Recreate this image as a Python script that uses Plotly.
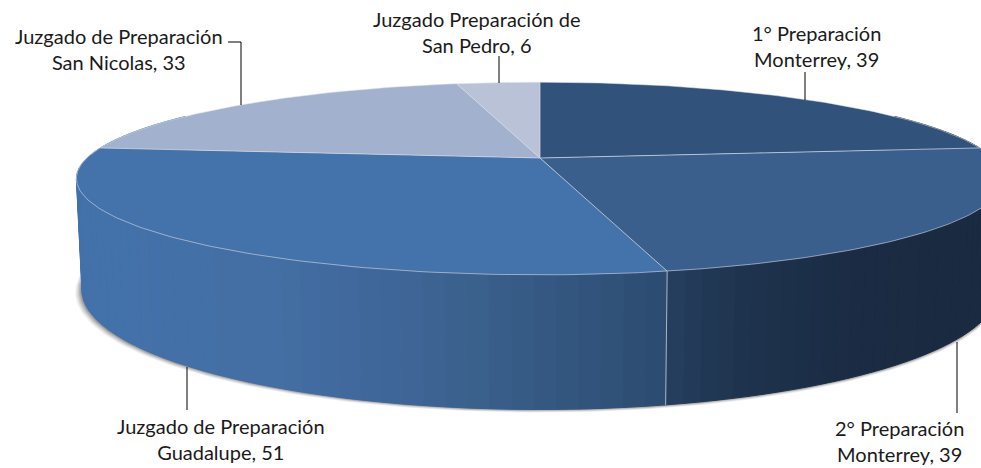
import math
import numpy as np
import plotly.graph_objects as go

labels = ["1° Preparación<br>Monterrey", "2° Preparación<br>Monterrey",
          "Juzgado de Preparación<br>Guadalupe", "Juzgado de Preparación<br>San Nicolas",
          "Juzgado Preparación de<br>San Pedro"]
values = [39, 39, 51, 33, 6]
top_colors = ["#31527B", "#3B5F8C", "#4472AA", "#A2B1CD", "#B9C2D6"]
label_pos = [(816, 46), (899, 441), (221, 439), (119, 49), (477, 32)]
leaders = [([805, 805], [72, 100]), ([957, 957], [342, 413]), ([187, 187], [367, 410]),
           ([228, 241, 241], [42, 42, 105]), ([499, 499], [56, 83])]
wall_stops_x = [75, 280, 360, 450, 560, 667]
wall_stops_c = ["#4472AB", "#436FA4", "#41689C", "#3C6390", "#345780", "#2D4B70"]
wall_stops_x2 = [667, 740, 850, 985]
wall_stops_c2 = ["#26405F", "#1F344F", "#1B2C44", "#1A2A40"]

CX, CY, A, B, K, D = 540, 158, 453, 92, 0.2126, 106


def project(theta):
    u, v = np.sin(theta), -np.cos(theta)
    w = 1 - K * v
    return CX + A * u / w, CY + B * v / w


def bottom(theta):
    x, y = project(theta)
    v = -np.cos(theta)
    return CX + (x - CX) * 0.988, y + D / (1 - K * v)


def hex_rgb(h):
    return np.array([int(h[i:i + 2], 16) for i in (1, 3, 5)], float)


def wall_color(x, xs, cs):
    rgb = [np.interp(x, xs, [hex_rgb(c)[i] for c in cs]) for i in range(3)]
    return "rgb(%d,%d,%d)" % tuple(rgb)


fig = go.Figure()


def poly(xs, ys, fill, line=None, width=0):
    fig.add_trace(go.Scatter(x=list(xs), y=list(ys), mode="lines", fill="toself", fillcolor=fill,
                             line=dict(color=line or fill, width=width), hoverinfo="skip", showlegend=False))


def stroke(xs, ys, color, width):
    fig.add_trace(go.Scatter(x=list(xs), y=list(ys), mode="lines", line=dict(color=color, width=width),
                             hoverinfo="skip", showlegend=False))


total = sum(values)
edges = np.concatenate([[0], np.cumsum(values)]) / total * 2 * math.pi
full = np.linspace(0, 2 * math.pi, 361)

# soft shadow under the disc, reaching further out on the left
bx, by = bottom(full)
for grow, alpha in [(7, .05), (6, .07), (5, .08), (4, .10), (3, .12), (2, .16), (1, .22)]:
    sx = bx - grow * np.where(bx < CX, (CX - bx) / 465, -0.2)
    sy = by + grow * .45
    poly(sx, sy, "rgba(60,60,60,%.2f)" % alpha)

# side wall, shaded along x: the two front slices meet at the divider
divider = edges[2]
right = np.linspace(math.radians(60), divider, 60)
left = np.linspace(divider, math.radians(300), 60)
for th, sx, sc in [(right, wall_stops_x2, wall_stops_c2), (left, wall_stops_x, wall_stops_c)]:
    for a, b in zip(th[:-1], th[1:]):
        xa, ya = project(a)
        xb, yb = project(b)
        xc, yc = bottom(b)
        xd, yd = bottom(a)
        poly([xa, xb, xc, xd, xa], [ya, yb, yc, yd, ya], wall_color((xa + xb) / 2, sx, sc), width=1)

xd0, yd0 = project(divider)
xd1, yd1 = bottom(divider)
stroke([xd0, xd1], [yd0, yd1], "rgba(200,208,222,.8)", 1)

# top face
for i in range(len(values)):
    t = np.linspace(edges[i], edges[i + 1], 90)
    x, y = project(t)
    poly(np.r_[CX, x, CX], np.r_[CY, y, CY], top_colors[i])

# rim and slice borders
x, y = project(full)
stroke(x, y, "rgba(225,230,240,.55)", 1)
for e in edges[:-1]:
    xe, ye = project(e)
    stroke([CX, xe], [CY, ye], "rgba(210,216,230,.75)", 1)

for xs, ys in leaders:
    stroke(xs, ys, "#000000", 1)

for name, val, (px, py) in zip(labels, values, label_pos):
    fig.add_annotation(x=px, y=py, text=f"{name}, {val}", showarrow=False, xanchor="center", yanchor="middle",
                       font=dict(family="Lato", size=20, color="#1a1a1a"), align="center")

fig.update_layout(width=981, height=468, margin=dict(l=0, r=0, t=0, b=0), paper_bgcolor="white",
                  plot_bgcolor="white", showlegend=False,
                  xaxis=dict(range=[0, 981], visible=False, fixedrange=True),
                  yaxis=dict(range=[468, 0], visible=False, fixedrange=True))
fig.write_html("out.html", config={"displayModeBar": False},
               post_script="document.body.style.margin='0';document.documentElement.style.overflow='hidden';")
